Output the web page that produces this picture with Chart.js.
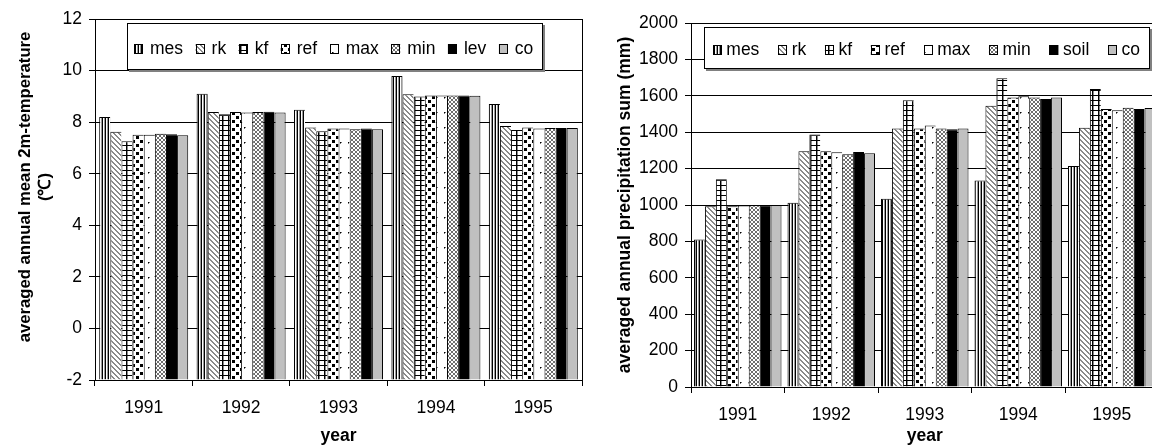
<!DOCTYPE html>
<html>
<head>
<meta charset="utf-8">
<script src="https://cdn.jsdelivr.net/npm/chart.js@4.4.1/dist/chart.umd.min.js"></script>
<style>
  html, body { margin: 0; padding: 0; background: #fff; overflow: hidden; }
  #wrap { position: relative; width: 1152px; height: 447px; overflow: hidden; background: #fff; }
  .panel { position: absolute; top: 0; }
  #tempPanel { left: 0; }
  #precPanel { left: 600px; }
</style>
</head>
<body>
<div id="wrap">
  <div class="panel" id="tempPanel"><canvas id="tempChart" width="600" height="447"></canvas></div>
  <div class="panel" id="precPanel"><canvas id="precChart" width="600" height="447"></canvas></div>
</div>
<script>
// ---- data -------------------------------------------------------------
const years = ['1991', '1992', '1993', '1994', '1995'];

const tempNames = ['mes', 'rk', 'kf', 'ref', 'max', 'min', 'lev', 'co'];
const precNames = ['mes', 'rk', 'kf', 'ref', 'max', 'min', 'soil', 'co'];

// averaged annual mean 2m-temperature (°C)
const tMes = [8.20, 9.10, 8.48, 9.79, 8.70];
const tRk  = [7.63, 8.39, 7.79, 9.08, 7.85];
const tKf  = [7.26, 8.31, 7.65, 8.99, 7.70];
const tRef = [7.51, 8.39, 7.75, 9.03, 7.79];
const tMax = [7.51, 8.37, 7.75, 9.03, 7.75];
const tMin = [7.55, 8.39, 7.72, 9.03, 7.77];
const tLev = [7.53, 8.40, 7.75, 9.03, 7.77];
const tCo  = [7.49, 8.37, 7.72, 9.02, 7.77];

// averaged annual precipitation sum (mm)
const pMes  = [810, 1013, 1035, 1135, 1214];
const pRk   = [993, 1295, 1420, 1545, 1424];
const pKf   = [1141, 1388, 1576, 1696, 1637];
const pRef  = [993, 1295, 1420, 1591, 1528];
const pMax  = [997, 1290, 1437, 1597, 1521];
const pMin  = [998, 1279, 1420, 1591, 1535];
const pSoil = [998, 1291, 1416, 1583, 1527];
const pCo   = [1000, 1284, 1420, 1591, 1533];

// value-axis ranges
const tempAxis = { min: -2, max: 12, step: 2 };
const precAxis = { min: 0, max: 2000, step: 200 };

// ---- fill patterns ------------------------------------------------------
function tile(w, h, paint) {
  const c = document.createElement('canvas');
  c.width = w; c.height = h;
  const g = c.getContext('2d');
  g.fillStyle = '#fff';
  g.fillRect(0, 0, w, h);
  paint(g);
  return g.createPattern(c, 'repeat');
}
const px = (g, col, pts) => { g.fillStyle = col; pts.forEach(p => g.fillRect(p[0], p[1], 1, 1)); };

const fills = [
  // vertical stripes
  tile(3, 1, g => { px(g, '#000', [[0, 0]]); px(g, '#9a9a9a', [[2, 0]]); }),
  // wide downward diagonal
  tile(5, 5, g => { for (let i = 0; i < 5; i++) px(g, '#8a8a8a', [[i, i], [(i + 1) % 5, i]]); }),
  // large grid
  tile(6, 5, g => {
    g.fillStyle = '#000'; g.fillRect(0, 0, 6, 1); g.fillRect(0, 0, 1, 5);
    g.fillStyle = '#8a8a8a'; g.fillRect(1, 1, 1, 4);
  }),
  // large confetti
  tile(8, 8, g => { g.fillStyle = '#000'; g.fillRect(0, 0, 3, 3); g.fillRect(4, 4, 3, 3); }),
  // sparse dots
  tile(8, 15, g => { px(g, '#000', [[4, 7]]); px(g, '#777', [[5, 7], [4, 8]]); }),
  // diamond lattice
  tile(4, 4, g => { px(g, '#6e6e6e', [[0, 0], [1, 1], [2, 2], [3, 3], [3, 0], [2, 1], [1, 2], [0, 3]]); }),
  // solid black
  '#000000',
  // solid grey
  '#c0c0c0'
];

// ---- shared styling -----------------------------------------------------
const FONT = 'Arial, "Liberation Sans", Helvetica, sans-serif';
const FS = 17.5;

function makeSets(names, series, base) {
  const last = names.length - 1;
  return names.map((n, i) => ({
    label: n,
    data: series[i],
    backgroundColor: fills[i],
    borderColor: '#000',
    borderWidth: { top: 1, left: 1, bottom: 0, right: i === last ? 1 : 0 },
    borderSkipped: false,
    base: base
  }));
}

// legend box drawn inside the plot
const boxLegend = {
  id: 'boxLegend',
  afterDraw(chart, args, o) {
    const ctx = chart.ctx;
    ctx.save();
    ctx.fillStyle = '#808080';
    ctx.fillRect(o.x + 2, o.y + 2, o.w, o.h);
    ctx.fillStyle = '#fff';
    ctx.fillRect(o.x, o.y, o.w, o.h);
    ctx.strokeStyle = '#000';
    ctx.lineWidth = 1;
    ctx.strokeRect(o.x + 0.5, o.y + 0.5, o.w - 1, o.h - 1);
    ctx.font = FS + 'px ' + FONT;
    ctx.textBaseline = 'alphabetic';
    ctx.textAlign = 'left';
    let cx = o.first;
    chart.data.datasets.forEach(ds => {
      ctx.fillStyle = ds.backgroundColor;
      ctx.fillRect(cx, o.sy, o.sw, o.sh);
      ctx.strokeStyle = '#000';
      ctx.strokeRect(Math.round(cx) + 0.5, o.sy + 0.5, o.sw - 1, o.sh - 1);
      ctx.fillStyle = '#000';
      ctx.fillText(ds.label, cx + o.textOff, o.baseline);
      cx += o.textOff + ctx.measureText(ds.label).width + o.gap;
    });
    ctx.restore();
  }
};

// axis titles and plot frame
const frameText = {
  id: 'frameText',
  afterDraw(chart, args, o) {
    const ctx = chart.ctx;
    const a = chart.chartArea;
    ctx.save();
    if (o.rightEdge) {
      ctx.strokeStyle = '#000';
      ctx.lineWidth = 1;
      const rx = Math.round(a.right) + 0.5;
      ctx.beginPath(); ctx.moveTo(rx, a.top); ctx.lineTo(rx, a.bottom); ctx.stroke();
    }
    ctx.fillStyle = '#000';
    ctx.textAlign = 'center';
    ctx.textBaseline = 'alphabetic';
    ctx.font = 'bold ' + FS + 'px ' + FONT;
    ctx.fillText(o.xTitle, (a.left + a.right) / 2, o.xBaseline);
    ctx.font = 'bold ' + o.yTitleSize + 'px ' + FONT;
    o.yLines.forEach((line, i) => {
      ctx.save();
      ctx.translate(o.yBaselines[i], o.yCenter);
      ctx.rotate(-Math.PI / 2);
      ctx.fillText(line, 0, 0);
      ctx.restore();
    });
    ctx.restore();
  }
};

function options(cfg) {
  return {
    responsive: false,
    animation: false,
    devicePixelRatio: 1,
    layout: { padding: cfg.padding },
    datasets: { bar: { categoryPercentage: cfg.catPct, barPercentage: 1 } },
    plugins: {
      legend: { display: false },
      tooltip: { enabled: false },
      boxLegend: cfg.legend,
      frameText: cfg.titles
    },
    scales: {
      x: {
        grid: { display: true, offset: true, drawOnChartArea: false, drawTicks: true, tickLength: 6, color: '#000' },
        border: { display: true, color: '#000' },
        ticks: { color: '#000', font: { family: FONT, size: FS }, padding: 12, maxRotation: 0 },
        afterFit(s) { s.height = cfg.xHeight; }
      },
      y: {
        min: cfg.axis.min,
        max: cfg.axis.max,
        ticks: {
          stepSize: cfg.axis.step, color: '#000', font: { family: FONT, size: FS }, padding: 7,
          callback: v => String(v)
        },
        grid: { color: '#000', tickLength: 6 },
        border: { display: true, color: '#000' },
        afterFit(s) { s.width = cfg.yWidth; }
      }
    }
  };
}

// ---- temperature chart --------------------------------------------------
new Chart(document.getElementById('tempChart'), {
  type: 'bar',
  data: {
    labels: years,
    datasets: makeSets(tempNames, [tMes, tRk, tKf, tRef, tMax, tMin, tLev, tCo], tempAxis.min)
  },
  options: options({
    padding: { left: 0, top: 19, right: 18, bottom: 0 },
    catPct: 0.914,
    axis: tempAxis,
    xHeight: 67,
    yWidth: 95,
    legend: { x: 127, y: 23, w: 416, h: 47, first: 134, sw: 9, sh: 10, sy: 44, textOff: 16, gap: 12.5, baseline: 54 },
    titles: {
      rightEdge: true,
      xTitle: 'year', xBaseline: 441,
      yTitleSize: 16.7,
      yLines: ['averaged annual mean 2m-temperature', '(\u2103)'],
      yBaselines: [30, 50], yCenter: 187
    }
  }),
  plugins: [boxLegend, frameText]
});

// ---- precipitation chart ------------------------------------------------
new Chart(document.getElementById('precChart'), {
  type: 'bar',
  data: {
    labels: years,
    datasets: makeSets(precNames, [pMes, pRk, pKf, pRef, pMax, pMin, pSoil, pCo], precAxis.min)
  },
  options: options({
    padding: { left: 0, top: 23, right: 41.5, bottom: 0 },
    catPct: 0.936,
    axis: precAxis,
    xHeight: 60,
    yWidth: 91,
    legend: { x: 104, y: 27, w: 446, h: 42, first: 112.7, sw: 9, sh: 10, sy: 45, textOff: 13.6, gap: 18.7, baseline: 55 },
    titles: {
      rightEdge: false,
      xTitle: 'year', xBaseline: 441,
      yTitleSize: 17.5,
      yLines: ['averaged annual precipitation sum (mm)'],
      yBaselines: [30], yCenter: 205
    }
  }),
  plugins: [boxLegend, frameText]
});
</script>
</body>
</html>
